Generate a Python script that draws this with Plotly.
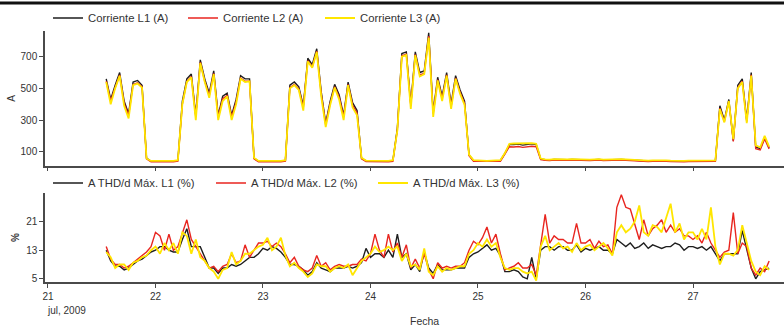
import pandas as pd
import plotly.graph_objects as go

# ---------------- data (hourly readings, from 21 Jul 2009 13:00) ----------------
start_time = "2009-07-21 13:00"

corriente_L1 = [
    560, 430, 520, 600, 420, 340, 540, 550, 520, 60, 40,
    40, 38, 36, 38, 40, 45, 420, 560, 590, 330, 680, 560, 470, 610, 330, 450, 470, 330, 430, 580, 560, 560, 60, 40,
    40, 38, 40, 38, 40, 45, 520, 540, 510, 390, 690, 650, 750, 480, 280, 420, 525, 460, 330, 540, 410, 360, 60, 42,
    42, 40, 38, 40, 40, 45, 250, 720, 730, 400, 730, 600, 610, 850, 350, 570, 450, 600, 400, 580, 490, 420, 80, 45,
    45, 42, 40, 42, 40, 45, 90, 145, 145, 148, 142, 145, 150, 145, 55, 50, 48, 52, 50, 48, 50, 52, 50, 48,
    50, 48, 50, 52, 48, 50, 48, 50, 52, 50, 48, 46, 45, 44, 42, 44, 45, 43, 44, 42, 40, 42, 40, 42,
    42, 40, 41, 40, 42, 44, 390, 300, 430, 170, 520, 560, 300, 600, 130, 120, 190, 125,
]
corriente_L2 = [
    545, 420, 505, 585, 405, 330, 525, 535, 510, 55, 36,
    36, 35, 33, 35, 36, 40, 400, 545, 575, 320, 665, 545, 455, 595, 320, 435, 455, 320, 415, 565, 545, 545, 55, 36,
    36, 35, 36, 35, 36, 40, 505, 525, 495, 380, 675, 635, 735, 465, 270, 405, 510, 445, 320, 525, 395, 345, 55, 38,
    38, 36, 35, 36, 36, 40, 240, 705, 715, 390, 715, 585, 595, 830, 340, 555, 435, 585, 385, 565, 475, 405, 75, 40,
    40, 38, 36, 38, 36, 40, 85, 132, 130, 133, 128, 130, 135, 132, 50, 46, 44, 48, 46, 44, 46, 48, 46, 44,
    46, 44, 46, 48, 44, 46, 44, 46, 48, 46, 44, 42, 41, 40, 38, 40, 41, 39, 40, 38, 36, 38, 36, 38,
    38, 36, 37, 36, 38, 40, 375, 290, 420, 165, 505, 545, 290, 585, 120, 112, 180, 118,
]
corriente_L3 = [
    540, 400, 500, 580, 390, 310, 520, 530, 505, 58, 42,
    42, 40, 38, 40, 42, 47, 400, 540, 570, 300, 660, 540, 440, 590, 300, 420, 450, 300, 400, 560, 540, 545, 62, 42,
    42, 40, 42, 40, 42, 47, 500, 520, 490, 360, 670, 630, 730, 450, 255, 395, 505, 430, 300, 520, 380, 330, 62, 44,
    44, 42, 40, 42, 42, 47, 235, 700, 710, 370, 710, 575, 590, 820, 320, 550, 420, 580, 370, 560, 465, 395, 82, 47,
    47, 44, 42, 44, 42, 47, 92, 150, 152, 153, 150, 152, 155, 150, 57, 52, 50, 54, 52, 50, 52, 54, 52, 50,
    52, 50, 52, 54, 50, 52, 50, 52, 54, 52, 50, 48, 47, 46, 44, 46, 47, 45, 46, 44, 42, 44, 42, 44,
    44, 42, 43, 42, 44, 46, 370, 285, 420, 180, 500, 540, 280, 580, 140, 128, 200, 132,
]

thd_L1 = [
    13, 10, 8.5, 8.5, 7.5, 8, 9, 10, 10.5, 11.5, 12.5,
    13, 14, 14, 13, 12.5, 12.5, 16, 19, 14, 14, 14, 11, 8, 8, 6.5, 8, 8, 9, 8.5, 9, 10, 11, 11, 12,
    13.5, 13, 14, 13.5, 12.5, 11, 9, 9, 8.5, 7.5, 6, 7, 9.5, 8, 7.5, 7, 8, 8, 8, 8.5, 8, 8.5, 9.5, 13.5,
    11, 12, 12, 11, 13, 11, 17.5, 11, 12, 7.5, 9, 7, 12.5, 8, 6.5, 9, 7.5, 7.5, 7.5, 8, 8, 8, 11, 12,
    12.5, 13.5, 14.5, 13, 13.5, 11.5, 7, 7, 7.5, 7, 5.5, 5, 11, 5, 13, 14, 14, 13, 14, 14, 13, 13, 14.5, 12.5,
    13.5, 13, 13.5, 14, 13, 13, 12, 16, 15, 14, 15, 13.5, 14, 15, 13.5, 14.5, 14, 13.5, 14, 14, 15, 14.5, 13, 14,
    14, 13.5, 14, 13, 14, 12, 10, 12, 12, 12, 12, 18.5, 13, 8, 5, 7, 7.5, 8,
]
thd_L2 = [
    14, 10.5, 9, 9, 8, 8.5, 9.5, 10.5, 11.5, 12.5, 14,
    18, 17, 13, 17.5, 13, 14, 18, 21.5, 16, 14, 12, 10, 8, 8.5, 7, 8.5, 9, 12, 9.5, 10, 14.5, 11, 13, 15,
    15, 15.5, 14, 15, 14, 12, 9.5, 11, 8.5, 7.5, 7, 8, 11.5, 8.5, 9.5, 7.5, 8.5, 9, 8.5, 8.5, 9, 9, 10.5, 10,
    12, 17.5, 13, 11, 17.5, 12.5, 15, 11, 14.5, 8, 10.5, 8, 12, 7.5, 5, 9.5, 8, 8.5, 8, 8.5, 8.5, 9.5, 13, 15.5,
    14.5, 16.5, 19.5, 15, 17.5, 12, 7.5, 8, 8.5, 9.5, 8, 8, 9, 6, 15, 23, 15, 17, 16, 16, 15, 15, 20.5, 15,
    15, 16, 13.5, 15.5, 14, 14.5, 12, 25, 28.5, 25, 24.5, 20, 16, 21.5, 17, 19, 20, 21.5, 18, 20, 18, 19, 17, 17,
    16, 17, 15, 18, 15, 13, 11, 12.5, 13, 23.5, 12, 15, 14, 8, 6, 8, 7, 10,
]
thd_L3 = [
    12.5, 11, 8, 9, 9, 7.5, 9.5, 10, 11, 11.5, 13,
    14, 12, 15, 13, 15, 12, 18, 17, 12, 16, 11, 10, 8, 7, 5, 7.5, 8, 12.5, 9, 10, 12, 12, 13, 14,
    14.5, 16.5, 13, 14, 16.5, 11.5, 8.5, 9.5, 8, 7, 5.5, 6.5, 9, 8.5, 8.5, 7, 8, 8.5, 8, 9, 6, 8, 10, 11,
    12, 14, 12.5, 13, 14, 13, 14, 10, 12, 8.5, 9, 7.5, 13.5, 7, 6, 8.5, 7, 8, 7.5, 8, 8.5, 8.5, 12, 13,
    15, 14, 16, 14, 15, 11, 8, 7.5, 8, 8, 7, 6.5, 7, 4.5, 14, 17, 13, 14, 15, 13.5, 14, 12.5, 15, 13,
    14, 14.5, 13, 14, 15, 13.5, 11.5, 18, 20, 18, 19, 21, 25.5, 18, 17, 20, 19.5, 18, 22, 26, 18, 20.5, 16, 18,
    18, 16, 19, 16, 25, 14, 9, 12, 12, 11.5, 13, 20, 15, 10, 7, 6, 8.5, 7.5,
]

day_ticks = ["2009-07-21", "2009-07-22", "2009-07-23", "2009-07-24",
             "2009-07-25", "2009-07-26", "2009-07-27"]
day_labels = ["21", "22", "23", "24", "25", "26", "27"]
top_ticks = [100, 300, 500, 700]
bottom_ticks = [5, 13, 21]

series_names = ["L1", "L2", "L3"]
colors = ["#1e1e1e", "#e8251f", "#ffe600"]
widths = [1.4, 1.4, 1.8]

for arr in (corriente_L2, corriente_L3, thd_L1, thd_L2, thd_L3):
    assert len(arr) == len(corriente_L1), len(arr)

times = pd.date_range(start_time, periods=len(corriente_L1), freq="h")

# ---------------- figure ----------------
fig = go.Figure()
top_legends = ["legend", "legend2", "legend3"]
bot_legends = ["legend4", "legend5", "legend6"]
for i, (name, ys) in enumerate(zip(series_names, [corriente_L1, corriente_L2, corriente_L3])):
    fig.add_trace(go.Scatter(x=times, y=ys, mode="lines", name=f"Corriente {name} (A)",
                             line=dict(color=colors[i], width=widths[i]), xaxis="x", yaxis="y",
                             legend=top_legends[i]))
for i, (name, ys) in enumerate(zip(series_names, [thd_L1, thd_L2, thd_L3])):
    fig.add_trace(go.Scatter(x=times, y=ys, mode="lines", name=f"A THD/d Máx. {name} (%)",
                             line=dict(color=colors[i], width=widths[i]), xaxis="x2", yaxis="y2",
                             legend=bot_legends[i]))

axis_col = "#4a4a4a"
x_range = ["2009-07-20 23:20", "2009-07-27 20:19"]
common_x = dict(range=x_range, tickvals=day_ticks, ticktext=day_labels, ticks="outside",
                ticklen=4, tickwidth=1, tickcolor=axis_col, showline=True, linecolor=axis_col,
                linewidth=1.5, showgrid=False, zeroline=False, automargin=False)
common_y = dict(ticks="outside", ticklen=4, tickwidth=1, tickcolor=axis_col, showline=True,
                linecolor=axis_col, linewidth=1.5, showgrid=False, zeroline=False,
                automargin=False)

plot_w = 784 - 45
plot_h = 327 - 31 - 45


def px_x(px):
    return (px - 45) / plot_w


def px_y(py):
    return (282 - py) / plot_h


def leg(px, py):
    return dict(orientation="h", x=px_x(px), xanchor="left", y=px_y(py), yanchor="middle",
                font=dict(size=11.3), bgcolor="rgba(0,0,0,0)", itemclick=False,
                itemdoubleclick=False)


fig.update_layout(
    width=784, height=327,
    margin=dict(l=45, r=0, t=31, b=45, autoexpand=False),
    paper_bgcolor="white", plot_bgcolor="white",
    font=dict(family="Liberation Sans, Arial, sans-serif", size=10, color="#333333"),
    xaxis=dict(domain=[0, 1], anchor="y", showticklabels=False, **common_x),
    yaxis=dict(domain=[px_y(165.7), 1], anchor="x", range=[12, 862], tickvals=top_ticks,
               title=dict(text="A", standoff=3, font=dict(size=10)), **common_y),
    xaxis2=dict(domain=[0, 1], anchor="y2", **common_x),
    yaxis2=dict(domain=[0, px_y(193)], anchor="x2", range=[4.1, 29], tickvals=bottom_ticks,
                title=dict(text="<b>%</b>", standoff=5, font=dict(size=10)), **common_y),
    legend=leg(48, 18),
    legend2=leg(183, 18),
    legend3=leg(320, 18),
    legend4=leg(48, 183),
    legend5=leg(211, 183),
    legend6=leg(373, 183),
    showlegend=True,
    shapes=[dict(type="line", xref="paper", yref="paper", x0=px_x(0), x1=1,
                 y0=px_y(3), y1=px_y(3), layer="above",
                 line=dict(color="#111111", width=3))],
    annotations=[
        dict(text="jul, 2009", xref="x2", x="2009-07-21", xanchor="left", xshift=-3,
             yref="paper", y=px_y(310), yanchor="middle", showarrow=False, font=dict(size=10)),
        dict(text="Fecha", xref="paper", x=px_x(424), xanchor="center", yref="paper",
             y=px_y(321), yanchor="middle", showarrow=False, font=dict(size=10.5)),
    ],
)

fig.write_html("out.html", config={"displayModeBar": False},
               post_script="document.body.style.margin='0';document.body.style.padding='0';")
